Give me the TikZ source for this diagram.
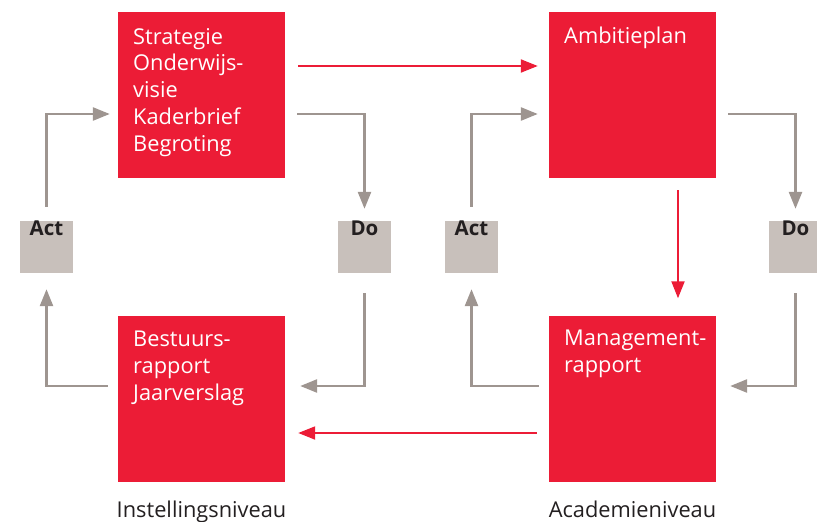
\documentclass[tikz,border=0pt]{standalone}
\usepackage{fontspec}
\setmainfont{Open Sans}
\usetikzlibrary{arrows.meta}
\definecolor{pdred}{RGB}{236,28,54}
\definecolor{pdgray}{RGB}{200,192,187}
\definecolor{pdarrow}{RGB}{158,149,144}
\definecolor{pdtext}{RGB}{35,31,32}
\tikzset{
  redbox/.style={draw=none, fill=pdred, minimum width=167pt, minimum height=166pt, inner sep=0},
  graybox/.style={draw=none, fill=pdgray, minimum width=53pt, minimum height=52pt, inner sep=0},
  boxtext/.style={anchor=north west, inner sep=0, text=white, align=left, font=\fontsize{21.8}{26.7}\selectfont},
  pdcatext/.style={anchor=north, inner sep=0, text=pdtext, font=\fontsize{20.5}{22}\selectfont\bfseries},
  leveltext/.style={anchor=base, inner sep=0, text=pdtext, font=\fontsize{21.8}{24}\selectfont},
  garrow/.style={draw=pdarrow, line width=2.6pt, -{Triangle[length=17pt, width=13pt]}},
  rarrow/.style={draw=pdred, line width=2pt, -{Triangle[length=17pt, width=13pt]}}
}
\begin{document}
\begin{tikzpicture}[x=1pt, y=-1pt]
\useasboundingbox (0,0) rectangle (817,522);
% red boxes
\node[redbox] (s1) at (201.5,95) {};
\node[redbox] (s2) at (201.5,398.5) {};
\node[redbox] (s3) at (632.5,95) {};
\node[redbox] (s4) at (632.5,398.5) {};
\node[boxtext] (t1) at (133,28) {Strategie\\Onderwijs-\\visie\\Kaderbrief\\Begroting};
\node[boxtext] (t2) at (133,331) {Bestuurs-\\rapport\\Jaarverslag};
\node[boxtext] (t3) at (564,27) {Ambitieplan};
\node[boxtext] (t4) at (564,330) {Management-\\rapport};
% gray boxes
\node[graybox] (actL) at (46.5,247) {};
\node[graybox] (doL) at (364.5,247) {};
\node[graybox] (actR) at (471.5,247) {};
\node[graybox] (doR) at (795.5,247) {};
\node[pdcatext] (aL) at (actL.north) {Act};
\node[pdcatext] (dL) at (doL.north) {Do};
\node[pdcatext] (aR) at (actR.north) {Act};
\node[pdcatext] (dR) at (doR.north) {Do};
% levels
\node[leveltext] (lev1) at (201.5,517) {Instellingsniveau};
\node[leveltext] (lev2) at (632.5,517) {Academieniveau};
% left cycle
\draw[garrow] ([yshift=14pt]actL.north) |- ([shift={(-8,19)}]s1.west);
\draw[garrow] ([shift={(12,19)}]s1.east) -| ([yshift=12pt]doL.north);
\draw[garrow] ([yshift=-20pt]doL.south) |- ([shift={(15,-12.5)}]s2.east);
\draw[garrow] ([shift={(-10,-12.5)}]s2.west) -| ([yshift=-16pt]actL.south);
% right cycle
\draw[garrow] ([yshift=14pt]actR.north) |- ([shift={(-11,19)}]s3.west);
\draw[garrow] ([shift={(12,19)}]s3.east) -| ([yshift=12pt]doR.north);
\draw[garrow] ([yshift=-20pt]doR.south) |- ([shift={(14,-12.5)}]s4.east);
\draw[garrow] ([shift={(-10,-12.5)}]s4.west) -| ([yshift=-16pt]actR.south);
% red connectors
\draw[rarrow] ([shift={(13,-29)}]s1.east) -- ([shift={(-11,-29)}]s3.west);
\draw[rarrow] ([shift={(45.5,12)}]s3.south) -- ([shift={(45.5,-17)}]s4.north);
\draw[rarrow] ([shift={(-12,34.5)}]s4.west) -- ([shift={(13,34.5)}]s2.east);
\end{tikzpicture}
\end{document}
